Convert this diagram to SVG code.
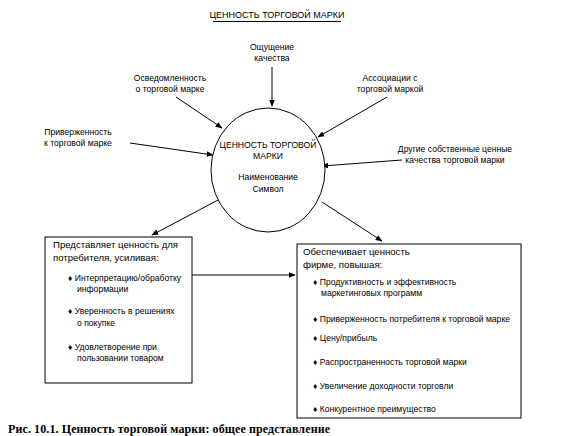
<svg xmlns="http://www.w3.org/2000/svg" width="585" height="436" viewBox="0 0 585 436">
<defs>
<marker id="ah" viewBox="0 0 10 10" refX="9" refY="5" markerWidth="7" markerHeight="7" orient="auto" markerUnits="userSpaceOnUse">
<path d="M0,1 L10,5 L0,9 Z" fill="#000"/>
</marker>
<style>
text{font-family:"Liberation Sans",Arial,sans-serif;fill:#000}
.s{font-size:8.6px}
.m{font-size:9.6px}
.t{font-size:9px}
.c{text-anchor:middle}
.ln{stroke:#000;stroke-width:1;fill:none}
.ar{stroke:#000;stroke-width:1;fill:none;marker-end:url(#ah)}
.bx{stroke:#000;stroke-width:1;fill:#fff}
.cap{font-family:"Liberation Serif","Times New Roman",serif;font-weight:bold;font-size:12px}
</style>
</defs>
<rect width="585" height="436" fill="#fff"/>
<g id="title">
<text class="t c" x="277" y="18">ЦЕННОСТЬ ТОРГОВОЙ МАРКИ</text>
<line class="ln" x1="213" y1="21.5" x2="341" y2="21.5"/>
</g>
<g id="connectors">
<line class="ar" x1="272" y1="67" x2="272" y2="106"/>
<line class="ar" x1="176" y1="97" x2="222" y2="128"/>
<line class="ar" x1="387" y1="97" x2="318" y2="137"/>
<line class="ar" x1="130" y1="143" x2="213" y2="155"/>
<line class="ar" x1="402" y1="160" x2="322" y2="166"/>
<line class="ar" x1="218" y1="200" x2="152" y2="235"/>
<line class="ar" x1="322" y1="202" x2="382" y2="241"/>
<line class="ar" x1="192" y1="275" x2="295" y2="275"/>
</g>
<g id="n_quality">
<text class="s c" x="272" y="50">Ощущение</text>
<text class="s c" x="272" y="61">качества</text>
</g>
<g id="n_awareness">
<text class="s c" x="170" y="81">Осведомленность</text>
<text class="s c" x="170" y="92">о торговой марке</text>
</g>
<g id="n_assoc">
<text class="s c" x="390" y="81">Ассоциации с</text>
<text class="s c" x="390" y="92">торговой маркой</text>
</g>
<g id="n_loyalty">
<text class="s c" x="78" y="135">Приверженность</text>
<text class="s c" x="78" y="146">к торговой марке</text>
</g>
<g id="n_other">
<text class="s c" x="455" y="152">Другие собственные ценные</text>
<text class="s c" x="455" y="163">качества торговой марки</text>
</g>
<g id="n_center">
<ellipse class="bx" cx="268" cy="170" rx="57" ry="62" fill="none"/>
<text class="s c" x="268" y="148">ЦЕННОСТЬ ТОРГОВОЙ</text>
<text class="s c" x="268" y="159">МАРКИ</text>
<text class="s c" x="268" y="180">Наименование</text>
<text class="s c" x="268" y="192">Символ</text>
</g>
<g id="n_consumer">
<rect class="bx" x="45" y="237" width="147" height="146"/>
<text class="m" x="53" y="248">Представляет ценность для</text>
<text class="m" x="53" y="261">потребителя, усиливая:</text>
<text class="s" x="68" y="281">♦ Интерпретацию/обработку</text>
<text class="s" x="77" y="292">информации</text>
<text class="s" x="68" y="314">♦ Уверенность в решениях</text>
<text class="s" x="77" y="326">о покупке</text>
<text class="s" x="68" y="350">♦ Удовлетворение при</text>
<text class="s" x="77" y="361">пользовании товаром</text>
</g>
<g id="n_firm">
<rect class="bx" x="297" y="244" width="224" height="174"/>
<text class="m" x="303" y="255">Обеспечивает  ценность</text>
<text class="m" x="303" y="268">фирме, повышая:</text>
<text class="s" x="313" y="285">♦ Продуктивность и эффективность</text>
<text class="s" x="321" y="296">маркетинговых программ</text>
<text class="s" x="313" y="322">♦ Приверженность потребителя к торговой марке</text>
<text class="s" x="313" y="341">♦ Цену/прибыль</text>
<text class="s" x="313" y="365">♦ Распространенность торговой марки</text>
<text class="s" x="313" y="389">♦ Увеличение доходности торговли</text>
<text class="s" x="313" y="412">♦ Конкурентное преимущество</text>
</g>
<g id="caption">
<text class="cap" x="8" y="433" textLength="322" lengthAdjust="spacing">Рис. 10.1. Ценность торговой марки: общее представление</text>
</g>
</svg>
